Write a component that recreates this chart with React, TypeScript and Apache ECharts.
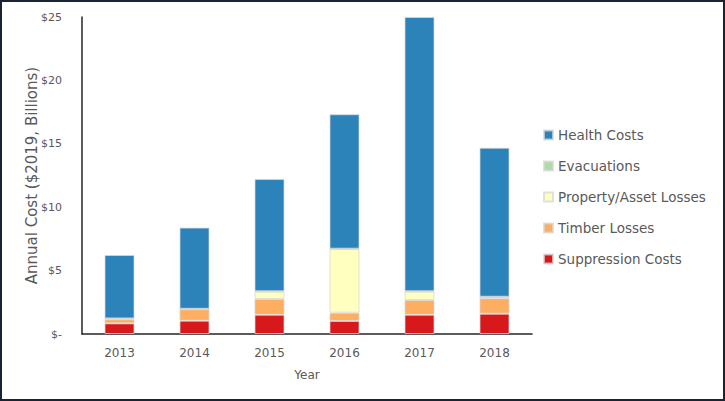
import React, { useEffect, useRef } from "react";
import * as echarts from "echarts";

const years = ["2013", "2014", "2015", "2016", "2017", "2018"];
const suppression = [0.84, 1.05, 1.52, 1.03, 1.52, 1.6];
const timber = [0.32, 0.9, 1.24, 0.65, 1.16, 1.22];
const property = [0.05, 0.02, 0.58, 5.02, 0.66, 0.1];
const evacuations = [0.02, 0.02, 0.03, 0.03, 0.03, 0.02];
const health = [5.0, 6.4, 8.85, 10.6, 21.63, 11.75];
const yTicks = [0, 5, 10, 15, 20, 25];

const FONT = "DejaVu Sans";

export default function App() {
  const ref = useRef<HTMLDivElement>(null);
  useEffect(() => {
    document.body.style.margin = "0";
    const chart = echarts.init(ref.current!, undefined, { renderer: "svg" });
    const border = "rgba(215,215,215,0.75)";
    const mk = (name: string, data: number[], color: string) => ({
      name,
      type: "bar",
      stack: "total",
      data,
      barWidth: 30,
      itemStyle: { color, borderColor: border, borderWidth: 1 },
    });
    chart.setOption({
      animation: false,
      textStyle: { fontFamily: FONT },
      grid: { left: 82, top: 17, width: 450, height: 317 },
      xAxis: {
        type: "category",
        data: years,
        axisLine: { lineStyle: { color: "#262626", width: 1.5 } },
        axisTick: { show: false },
        axisLabel: { color: "#595959", fontSize: 12, fontFamily: FONT, margin: 13 },
        name: "Year",
        nameLocation: "middle",
        nameGap: 35,
        nameMoveOverlap: false,
        nameTextStyle: { color: "#595959", fontSize: 12, fontFamily: FONT },
      },
      yAxis: {
        type: "value",
        min: 0,
        max: 25,
        interval: 5,
        axisLine: { show: true, lineStyle: { color: "#262626", width: 1.5 } },
        axisTick: { show: false },
        splitLine: { show: false },
        axisLabel: {
          color: "#595959",
          fontSize: 11,
          fontFamily: FONT,
          margin: 20,
          formatter: (v: number) => (yTicks.includes(v) ? (v === 0 ? "$-" : "$" + v) : ""),
        },
        name: "Annual Cost ($2019, Billions)",
        nameLocation: "middle",
        nameGap: 43,
        nameMoveOverlap: false,
        nameTextStyle: { color: "#595959", fontSize: 15, fontFamily: FONT },
      },
      legend: {
        orient: "vertical",
        left: 538,
        top: 123,
        itemWidth: 9,
        itemHeight: 9,
        itemGap: 17,
        icon: "rect",
        data: ["Health Costs", "Evacuations", "Property/Asset Losses", "Timber Losses", "Suppression Costs"],
        textStyle: { color: "#595959", fontSize: 13.5, fontFamily: FONT },
      },
      graphic: [
        {
          type: "rect",
          shape: { x: 1, y: 1, width: 723, height: 399 },
          style: { fill: "none", stroke: "#1a2233", lineWidth: 2 },
          silent: true,
        },
      ],
      series: [
        mk("Suppression Costs", suppression, "#d7191c"),
        mk("Timber Losses", timber, "#fdae61"),
        mk("Property/Asset Losses", property, "#ffffbf"),
        mk("Evacuations", evacuations, "#abdda4"),
        mk("Health Costs", health, "#2b83ba"),
      ],
    });
    return () => chart.dispose();
  }, []);
  return <div ref={ref} style={{ width: 725, height: 401 }} />;
}
